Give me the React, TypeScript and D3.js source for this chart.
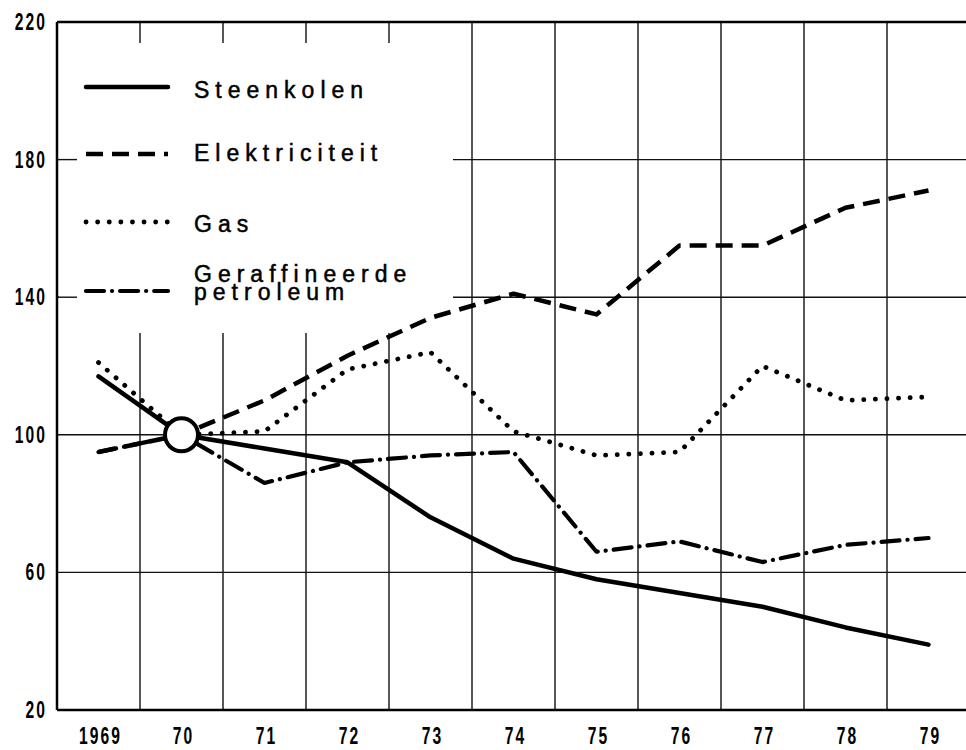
import React from "react";
import * as d3 from "d3";

const years = ["1969", "70", "71", "72", "73", "74", "75", "76", "77", "78", "79"];
const steenkolen = [117, 100, 96, 92, 76, 64, 58, 54, 50, 44, 39];
const elektriciteit = [95, 100, 110, 123, 134, 141, 135, 155, 155, 166, 171];
const gas = [121, 100, 101, 119, 124, 101, 94, 95, 120, 110, 111];
const petroleum = [95, 100, 86, 92, 94, 95, 66, 69, 63, 68, 70];
const yTicks = [20, 60, 100, 140, 180, 220];
const legendLabels = ["Steenkolen", "Elektriciteit", "Gas", "Geraffineerde|petroleum"];

const W = 966;
const H = 750;

const x = d3.scaleBand<string>().domain(years).range([57, 970]).paddingInner(0).paddingOuter(0);
const y = d3.scaleLinear().domain([20, 220]).range([710, 22]);

const styles = [
  { dash: "none", width: 4.5, cap: "round" },
  { dash: "17,9", width: 4.5, cap: "butt" },
  { dash: "0.1,11.5", width: 4.8, cap: "round" },
  { dash: "18,8,0.1,8", width: 4.2, cap: "round" },
];
const seriesList = [steenkolen, elektriciteit, gas, petroleum];

const line = d3
  .line<number>()
  .x((_, i) => (x(years[i]) as number) + x.bandwidth() / 2)
  .y((d) => y(d));

const tickFont = {
  fontFamily: "'Liberation Sans', Arial, sans-serif",
  fontWeight: 700,
  fontSize: 23,
  letterSpacing: 3,
};

export default function App() {
  const legendBox = { x0: 59, x1: 453, y0: 43, y1: 333 };
  const legendY = [87, 154, 222, 291];
  const legendTextY = [98, 161, 232, 282];
  const circleX = (x("70") as number) + x.bandwidth() / 2;
  const circleY = y(100);
  return (
    <svg
      width={W}
      height={H}
      style={{ position: "absolute", left: 0, top: 0, background: "#fff" }}
    >
      <rect x={0} y={0} width={W} height={H} fill="#fff" />
      {/* vertical grid */}
      {years.slice(1).map((yr) => (
        <line
          key={"v" + yr}
          x1={x(yr)}
          x2={x(yr)}
          y1={y(220)}
          y2={y(20)}
          stroke="#111"
          strokeWidth={1.4}
        />
      ))}
      {/* horizontal grid */}
      {yTicks.slice(1, -1).map((t) => (
        <line key={"h" + t} x1={57} x2={W} y1={y(t)} y2={y(t)} stroke="#111" strokeWidth={1.4} />
      ))}
      {/* legend mask */}
      <rect
        x={legendBox.x0}
        y={legendBox.y0}
        width={legendBox.x1 - legendBox.x0}
        height={legendBox.y1 - legendBox.y0}
        fill="#fff"
      />
      {/* short ticks at left for covered gridlines */}
      {[140, 180].map((t) => (
        <line key={"t" + t} x1={57} x2={77} y1={y(t)} y2={y(t)} stroke="#111" strokeWidth={1.4} />
      ))}
      {/* axes frame */}
      <line x1={57} x2={W} y1={y(220)} y2={y(220)} stroke="#000" strokeWidth={2.5} />
      <line x1={57} x2={W} y1={y(20)} y2={y(20)} stroke="#000" strokeWidth={2.5} />
      <line x1={57} x2={57} y1={y(220)} y2={y(20)} stroke="#000" strokeWidth={2.5} />

      {/* y tick labels */}
      {yTicks.map((t) => (
        <g key={"yl" + t} transform={`translate(47,${y(t) + 8}) scale(0.68,1)`}>
          <text textAnchor="end" {...tickFont} fill="#000">
            {String(t)}
          </text>
        </g>
      ))}
      {/* x tick labels */}
      {years.map((yr) => (
        <g
          key={"xl" + yr}
          transform={`translate(${(x(yr) as number) + x.bandwidth() / 2 + 2},${744}) scale(0.68,1)`}
        >
          <text textAnchor="middle" {...tickFont} fill="#000">
            {yr}
          </text>
        </g>
      ))}

      {/* series */}
      {seriesList.map((s, i) => (
        <path
          key={"s" + i}
          d={line(s) as string}
          fill="none"
          stroke="#000"
          strokeWidth={styles[i].width}
          strokeDasharray={styles[i].dash}
          strokeLinecap={styles[i].cap as any}
          strokeLinejoin="round"
        />
      ))}
      <circle cx={circleX} cy={circleY} r={16.5} fill="#fff" stroke="#000" strokeWidth={4} />

      {/* legend */}
      {legendLabels.map((lab, i) => (
        <g key={"lg" + i}>
          <line
            x1={86}
            x2={168}
            y1={legendY[i]}
            y2={legendY[i]}
            stroke="#000"
            strokeWidth={styles[i].width}
            strokeDasharray={styles[i].dash}
            strokeLinecap={styles[i].cap as any}
          />
          <text
            x={194}
            y={legendTextY[i]}
            fontFamily="'Liberation Sans', Arial, sans-serif"
            fontSize={23}
            letterSpacing={6}
            fill="#000"
            stroke="#000"
            strokeWidth={0.5}
          >
            {lab.split("|").map((part, j) => (
              <tspan key={j} x={194} dy={j === 0 ? 0 : 18}>
                {part}
              </tspan>
            ))}
          </text>
        </g>
      ))}
    </svg>
  );
}
